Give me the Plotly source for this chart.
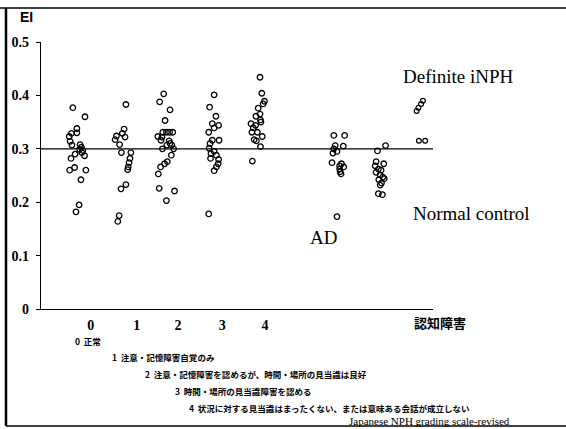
import plotly.graph_objects as go

# Evans index (EI) per patient, grouped by cognitive grade (0-4) plus comparison groups.
# Horizontal positions are the scatter (jitter) positions inside each column.
grade0_x = [-0.36, -0.09, -0.27, -0.27, -0.39, -0.44, -0.42, -0.38, -0.20, -0.17, -0.21,
            -0.14, -0.16, -0.10, -0.31, -0.40, -0.32, -0.43, -0.07, -0.18, -0.22, -0.29]
grade0_ei = [0.377, 0.360, 0.338, 0.330, 0.329, 0.323, 0.314, 0.307, 0.308, 0.303, 0.299,
             0.297, 0.293, 0.287, 0.290, 0.282, 0.265, 0.260, 0.260, 0.242, 0.195, 0.182]

grade1_x = [0.82, 0.78, 0.74, 0.80, 0.61, 0.58, 0.68, 0.72, 0.93, 0.91, 0.89, 0.87,
            0.86, 0.82, 0.71, 0.67, 0.64]
grade1_ei = [0.383, 0.337, 0.329, 0.322, 0.324, 0.317, 0.308, 0.293, 0.293, 0.282, 0.274,
             0.266, 0.261, 0.233, 0.225, 0.175, 0.164]

grade2_x = [1.66, 1.57, 1.80, 1.69, 1.64, 1.72, 1.79, 1.86, 1.53, 1.62, 1.60, 1.78, 1.80,
            1.73, 1.84, 1.63, 1.88, 1.83, 1.74, 1.68, 1.59, 1.54, 1.56, 1.90, 1.72]
grade2_ei = [0.403, 0.388, 0.373, 0.353, 0.331, 0.331, 0.331, 0.331, 0.323, 0.322, 0.316,
             0.315, 0.310, 0.307, 0.307, 0.300, 0.300, 0.288, 0.276, 0.272, 0.266, 0.253,
             0.226, 0.221, 0.203]

grade3_x = [2.78, 2.68, 2.82, 2.74, 2.88, 2.78, 2.66, 2.74, 2.89, 2.69, 2.67, 2.78, 2.71,
            2.83, 2.70, 2.88, 2.87, 2.83, 2.78, 2.66]
grade3_ei = [0.401, 0.378, 0.361, 0.347, 0.344, 0.339, 0.331, 0.316, 0.316, 0.310, 0.301,
             0.295, 0.291, 0.288, 0.282, 0.280, 0.272, 0.266, 0.259, 0.178]

grade4_x = [3.80, 3.84, 3.90, 3.87, 3.76, 3.80, 3.71, 3.81, 3.82, 3.60, 3.70, 3.65, 3.62,
            3.74, 3.85, 3.67, 3.72, 3.81, 3.63]
grade4_ei = [0.434, 0.404, 0.389, 0.384, 0.376, 0.365, 0.361, 0.354, 0.350, 0.347, 0.344,
             0.339, 0.331, 0.331, 0.323, 0.317, 0.315, 0.304, 0.277]

ad_x = [5.44, 5.68, 5.47, 5.65, 5.44, 5.51, 5.42, 5.40, 5.61, 5.57, 5.66, 5.57, 5.58, 5.60, 5.51]
ad_ei = [0.325, 0.325, 0.306, 0.305, 0.300, 0.295, 0.292, 0.274, 0.272, 0.268, 0.266,
         0.262, 0.257, 0.253, 0.173]

nc_x = [6.59, 6.41, 6.38, 6.55, 6.36, 6.43, 6.49, 6.38, 6.47, 6.53, 6.44, 6.56, 6.50,
        6.47, 6.43, 6.52]
nc_ei = [0.306, 0.296, 0.276, 0.272, 0.268, 0.262, 0.260, 0.256, 0.251, 0.247, 0.242,
         0.244, 0.236, 0.232, 0.216, 0.214]

inph_x = [7.42, 7.38, 7.32, 7.28, 7.33, 7.47]
inph_ei = [0.390, 0.384, 0.377, 0.371, 0.315, 0.315]

grade_ticks = [0.04, 1.06, 1.98, 2.96, 3.91]
grade_labels = ["0", "1", "2", "3", "4"]
y_ticks = [0, 0.1, 0.2, 0.3, 0.4, 0.5]
y_labels = ["0", "0.1", "0.2", "0.3", "0.4", "0.5"]
reference_ei = 0.3

grade_notes = [
    "0  正常",
    "1  注意・記憶障害自覚のみ",
    "2  注意・記憶障害を認めるが、時間・場所の見当識は良好",
    "3  時間・場所の見当識障害を認める",
    "4  状況に対する見当識はまったくない、または意味ある会話が成立しない",
]

W, H = 566, 429
L, R, T, B = 41, 133, 42, 120


def px(x):
    return (x - L) / (W - L - R)


def py(y):
    return (H - B - y) / (H - B - T)


fig = go.Figure()

groups = [
    (grade0_x, grade0_ei), (grade1_x, grade1_ei), (grade2_x, grade2_ei),
    (grade3_x, grade3_ei), (grade4_x, grade4_ei), (ad_x, ad_ei), (nc_x, nc_ei),
]
for gx, gy in groups:
    fig.add_trace(go.Scatter(
        x=gx, y=gy, mode="markers",
        marker=dict(symbol="circle-open", size=5.5, color="black", line=dict(width=1.3)),
        showlegend=False, cliponaxis=False,
    ))
fig.add_trace(go.Scatter(
    x=inph_x, y=inph_ei, mode="markers",
    marker=dict(symbol="circle-open", size=4.8, color="black", line=dict(width=1.2)),
    showlegend=False, cliponaxis=False,
))

# reference level
fig.add_shape(type="line", xref="paper", x0=0, x1=1, yref="y", y0=reference_ei, y1=reference_ei,
              line=dict(color="black", width=1.2))

# page frame
frame = dict(color="black")
fig.add_shape(type="line", xref="paper", yref="paper", x0=px(0), x1=px(W), y0=py(8), y1=py(8),
              line=dict(width=1.5, **frame))
fig.add_shape(type="line", xref="paper", yref="paper", x0=px(6), x1=px(6), y0=py(8), y1=py(426),
              line=dict(width=2.5, **frame))
fig.add_shape(type="line", xref="paper", yref="paper", x0=px(6), x1=px(W), y0=py(426), y1=py(426),
              line=dict(width=1.5, **frame))

serif = "Liberation Serif"
cjk = "Noto Sans CJK JP"
ann = []
ann.append(dict(text="EI", x=px(26), y=py(17), font=dict(family="Liberation Sans", size=14, weight="bold")))
ann.append(dict(text="Definite iNPH", x=px(401), y=py(76), xanchor="left", font=dict(family=serif, size=19)))
ann.append(dict(text="Normal control", x=px(411), y=py(213), xanchor="left", font=dict(family=serif, size=19)))
ann.append(dict(text="AD", x=px(308), y=py(237), xanchor="left", font=dict(family=serif, size=19)))
ann.append(dict(text="認知障害", x=px(440), y=py(322), font=dict(family=cjk, size=13, weight="bold")))

note_pos = [(73, 341), (110, 357), (143, 374), (173, 391), (187, 408)]
for txt, (nx, ny) in zip(grade_notes, note_pos):
    ann.append(dict(text=txt, x=px(nx), y=py(ny), xanchor="left",
                    font=dict(family=cjk, size=8.5, weight="bold")))
ann.append(dict(text="Japanese NPH grading scale-revised", x=px(347), y=py(421), xanchor="left",
                font=dict(family=serif, size=11)))

for a in ann:
    a.update(xref="paper", yref="paper", showarrow=False, yanchor=a.get("yanchor", "middle"))
    a.setdefault("xanchor", "center")
    a["font"].setdefault("color", "black")

tick_font = dict(family=serif, size=14, color="black", weight="bold")

fig.update_layout(
    width=W, height=H,
    margin=dict(l=L, r=R, t=T, b=B),
    paper_bgcolor="white", plot_bgcolor="white",
    annotations=ann,
    xaxis=dict(range=[-1.067, 7.644], showline=True, linecolor="black", linewidth=1.2,
               showgrid=False, zeroline=False, ticks="", tickvals=grade_ticks, ticktext=grade_labels,
               tickfont=tick_font, ticklabelstandoff=3),
    yaxis=dict(range=[0, 0.5], showline=True, linecolor="black", linewidth=1.2,
               showgrid=False, zeroline=False, ticks="outside", ticklen=4, tickwidth=1.2,
               tickcolor="black", tickvals=y_ticks, ticktext=y_labels,
               tickfont=tick_font, ticklabelstandoff=4),
)

fig.write_html("out.html")
